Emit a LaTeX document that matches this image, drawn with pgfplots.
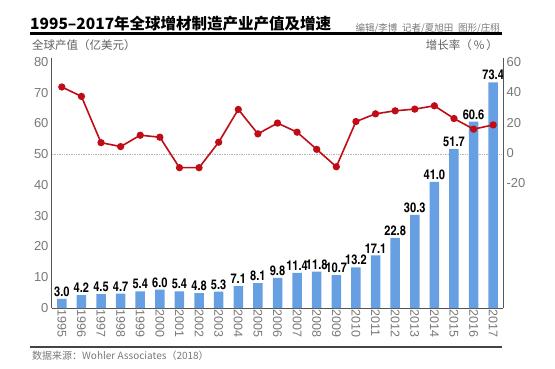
\documentclass[border=0pt]{standalone}
\usepackage{pgfplots}
\pgfplotsset{compat=1.18}
\usepackage{fontspec}
\setmainfont{Liberation Sans}
\newfontfamily\cjk{Noto Sans CJK SC}
\newfontfamily\cond{texgyreheroscn-bold.otf}
\definecolor{barblue}{RGB}{102,160,226}
\definecolor{linered}{RGB}{192,12,22}
\definecolor{txtgray}{RGB}{120,120,120}
\definecolor{axgray}{RGB}{85,85,85}
\pgfplotstableread{
x y lab
0 3.0 3.0
1 4.2 4.2
2 4.5 4.5
3 4.7 4.7
4 5.4 5.4
5 6.0 6.0
6 5.4 5.4
7 4.8 4.8
8 5.3 5.3
9 7.1 7.1
10 8.1 8.1
11 9.8 9.8
12 11.4 11.4
13 11.8 11.8
14 10.7 10.7
15 13.2 13.2
16 17.1 17.1
17 22.8 22.8
18 30.3 30.3
19 41.0 41.0
20 51.7 51.7
21 60.6 60.6
22 73.4 73.4
}\output
\pgfplotstableread{
x g
0 43.5
1 37.3
2 6.8
3 4.2
4 11.7
5 10.4
6 -9.7
7 -9.7
8 7.1
9 28.7
10 12.6
11 19.7
12 13.7
13 2.4
14 -9.1
15 20.7
16 25.8
17 27.8
18 28.9
19 31.1
20 22.7
21 15.7
22 18.5
}\growth
\begin{document}
\begin{tikzpicture}[x=1pt,y=1pt]
\path[use as bounding box] (0,0) rectangle (555,368);
% header
\node[anchor=base west, inner sep=0, font=\cjk\bfseries\fontsize{15.5}{15.5}\selectfont] at (30,339) {1995–2017年全球增材制造产业产值及增速};
\node[anchor=base east, inner sep=0, font=\cjk\fontsize{9.5}{9.5}\selectfont, text=txtgray] at (500,337) {编辑/李博\enspace 记者/夏旭田\enspace 图形/庄栩};
\draw[black, line width=3pt] (30,334.5) -- (502,334.5);
\node[anchor=base west, inner sep=0, font=\cjk\fontsize{11.5}{11.5}\selectfont, text=txtgray!80!black] at (32,319) {全球产值（亿美元）};
\node[anchor=base east, inner sep=0, font=\cjk\fontsize{11.5}{11.5}\selectfont, text=txtgray!80!black] at (498,319) {增长率（\,\%\,）};
% footer
\draw[axgray!80!black, line width=2pt] (30,21) -- (502,21);
\node[anchor=base west, inner sep=0, font=\cjk\fontsize{10}{10}\selectfont, text=txtgray] at (32,9) {数据来源：Wohler Associates（2018）};
\begin{axis}[
  at={(52pt,60pt)}, anchor=south west, scale only axis,
  width=451pt, height=250pt,
  xmin=-0.5, xmax=22.5, ymin=0, ymax=81.3,
  axis y line*=left, axis x line*=bottom,
  axis line style={draw=axgray, line width=1pt},
  major tick length=0pt,
  xtick={0,...,22},
  xticklabels={1995,1996,1997,1998,1999,2000,2001,2002,2003,2004,2005,2006,2007,2008,2009,2010,2011,2012,2013,2014,2015,2016,2017},
  xticklabel style={rotate=-90, anchor=west, font=\fontsize{12.5}{12.5}\selectfont, text=txtgray, inner sep=1.5pt},
  ytick={0,10,...,80},
  yticklabel style={font=\fontsize{13}{13}\selectfont, text=txtgray},
  /pgf/number format/assume math mode=true,
  clip=false,
]
\draw[txtgray!55, densely dotted, line width=0.7pt] (axis cs:-0.5,50) -- (axis cs:22.5,50);
\addplot[ybar, bar width=9.5pt, fill=barblue, draw=none,
  point meta=explicit symbolic,
  nodes near coords,
  every node near coord/.append style={font=\cond\fontsize{13.5}{13.5}\selectfont, text=black, inner sep=2pt}]
  table[x=x, y=y, meta=lab] {\output};
\end{axis}
\begin{axis}[
  at={(52pt,60pt)}, anchor=south west, scale only axis,
  width=451pt, height=250pt,
  xmin=-0.5, xmax=22.5, ymin=-102.2, ymax=62.6,
  axis y line*=right, axis x line=none,
  axis line style={draw=axgray, line width=1pt},
  major tick length=0pt,
  ytick={-20,0,20,40,60},
  yticklabel style={font=\fontsize{13}{13}\selectfont, text=txtgray},
  /pgf/number format/assume math mode=true,
  clip=false,
]
\addplot[color=linered, line width=1.6pt, mark=*, mark size=2.8pt, mark options={fill=linered, draw=linered}]
  table[x=x, y=g] {\growth};
\end{axis}
\end{tikzpicture}
\end{document}
